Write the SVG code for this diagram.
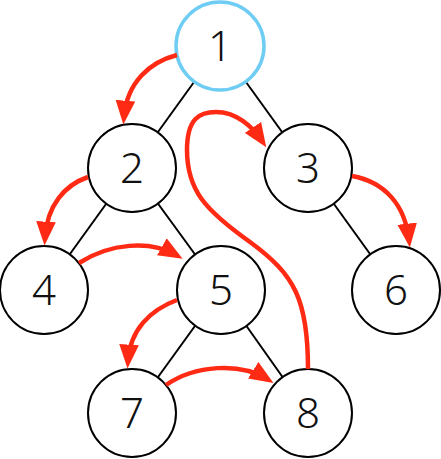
<svg xmlns="http://www.w3.org/2000/svg" width="441" height="459" viewBox="0 0 441 459">
<style>
.edge{stroke:#000;stroke-width:2;fill:none}
.node circle{fill:#fff;stroke:#000;stroke-width:2}
#n1 circle{stroke:#6fcdf4;stroke-width:3.5}
.node text{font-family:"Noto Sans","DejaVu Sans",sans-serif;font-weight:300;font-size:42px;text-anchor:middle;fill:#111}
.arrow{stroke:#ff2a14;stroke-width:4.5;fill:none;marker-end:url(#ah)}
</style>
<defs>
<marker id="ah" markerUnits="userSpaceOnUse" markerWidth="24" markerHeight="20" viewBox="0 0 22 18" refX="15" refY="9" orient="auto">
<path d="M0,0 L22,9 L0,18 z" fill="#ff2a14"/>
</marker>
</defs>
<g id="edges">
<line class="edge" x1="220" y1="46" x2="132" y2="168"/>
<line class="edge" x1="220" y1="46" x2="308" y2="168"/>
<line class="edge" x1="132" y1="168" x2="44" y2="290"/>
<line class="edge" x1="132" y1="168" x2="221" y2="290"/>
<line class="edge" x1="308" y1="168" x2="396" y2="290"/>
<line class="edge" x1="221" y1="290" x2="132" y2="413"/>
<line class="edge" x1="221" y1="290" x2="308" y2="413"/>
</g>
<g id="n1" class="node"><circle cx="220" cy="46" r="44"/><text x="220" y="61">1</text></g>
<g id="n2" class="node"><circle cx="132" cy="168" r="44"/><text x="132" y="183">2</text></g>
<g id="n3" class="node"><circle cx="308" cy="168" r="44"/><text x="308" y="183">3</text></g>
<g id="n4" class="node"><circle cx="44" cy="290" r="44"/><text x="44" y="305">4</text></g>
<g id="n5" class="node"><circle cx="221" cy="290" r="44"/><text x="221" y="305">5</text></g>
<g id="n6" class="node"><circle cx="396" cy="290" r="44"/><text x="396" y="305">6</text></g>
<g id="n7" class="node"><circle cx="132" cy="413" r="44"/><text x="132" y="428">7</text></g>
<g id="n8" class="node"><circle cx="308" cy="413" r="44"/><text x="308" y="428">8</text></g>
<g id="traversal">
<path class="arrow" d="M177,55 C150,62 127,82 124,117"/>
<path class="arrow" d="M88,177 C65,185 47,205 45,238"/>
<path class="arrow" d="M79,263 C110,243 150,240 176,255"/>
<path class="arrow" d="M352,176 C385,182 405,205 409,240"/>
<path class="arrow" d="M177,300 C150,310 130,330 128,361"/>
<path class="arrow" d="M166,385 C195,365 240,362 267,379"/>
<path class="arrow" d="M308,369 C308,300 295,275 250,242 C205,210 187,190 187,150 C187,118 200,112 216,112 C236,112 252,126 262,141"/>
</g>
</svg>
